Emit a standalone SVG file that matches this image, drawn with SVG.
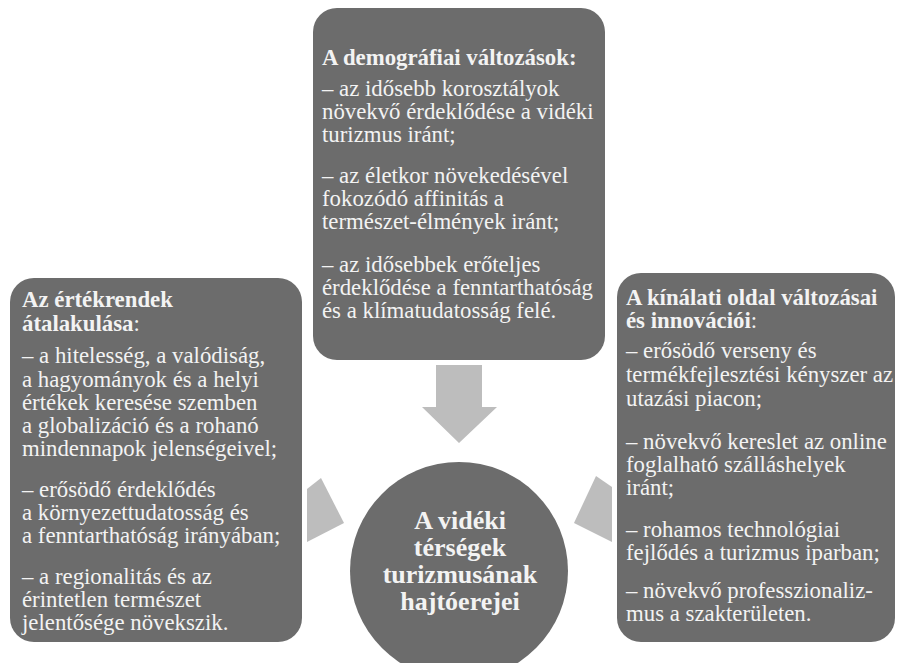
<svg xmlns="http://www.w3.org/2000/svg" width="898" height="663" viewBox="0 0 898 663">
<style>
.box{fill:#6c6c6c}
.arrow{fill:#bdbdbd}
text{font-family:"Liberation Serif","Times New Roman",serif;fill:#f3f3f3;font-size:22.8px}
.b{font-weight:bold}
.c{font-weight:bold;font-size:26px;text-anchor:middle}
</style>
<rect width="898" height="663" fill="#ffffff"/>
<g id="connectors">
<polygon class="arrow" points="436,365 482,365 482,407 497,407 459,443 422,407 436,407"/>
<polygon class="arrow" points="307,489 321,478 344,523 307,542"/>
<polygon class="arrow" points="596,476 612,487 612,542 574,523"/>
</g>
<g id="top">
<rect class="box" x="313" y="8" width="292" height="352" rx="24"/>
<text x="322" y="65" class="b">A demográfiai változások:</text>
<text x="322" y="96">– az idősebb korosztályok</text>
<text x="322" y="119">növekvő érdeklődése a vidéki</text>
<text x="322" y="142">turizmus iránt;</text>
<text x="322" y="183">– az életkor növekedésével</text>
<text x="322" y="206">fokozódó affinitás a</text>
<text x="322" y="229">természet-élmények iránt;</text>
<text x="322" y="272">– az idősebbek erőteljes</text>
<text x="322" y="295">érdeklődése a fenntarthatóság</text>
<text x="322" y="318">és a klímatudatosság felé.</text>
</g>
<g id="left">
<rect class="box" x="10" y="278" width="292" height="364" rx="24"/>
<text x="22" y="307" class="b">Az értékrendek</text>
<text x="22" y="331"><tspan class="b">átalakulása</tspan>:</text>
<text x="22" y="363">– a hitelesség, a valódiság,</text>
<text x="22" y="387">a hagyományok és a helyi</text>
<text x="22" y="410">értékek keresése szemben</text>
<text x="22" y="433">a globalizáció és a rohanó</text>
<text x="22" y="456">mindennapok jelenségeivel;</text>
<text x="22" y="497">– erősödő érdeklődés</text>
<text x="22" y="520">a környezettudatosság és</text>
<text x="22" y="543">a fenntarthatóság irányában;</text>
<text x="22" y="584">– a regionalitás és az</text>
<text x="22" y="607">érintetlen természet</text>
<text x="22" y="630">jelentősége növekszik.</text>
</g>
<g id="right">
<rect class="box" x="617" y="273" width="278" height="369" rx="24"/>
<text x="626" y="305" class="b">A kínálati oldal változásai</text>
<text x="626" y="328"><tspan class="b">és innovációi</tspan>:</text>
<text x="626" y="358">– erősödő verseny és</text>
<text x="626" y="382">termékfejlesztési kényszer az</text>
<text x="626" y="406">utazási piacon;</text>
<text x="626" y="449">– növekvő kereslet az online</text>
<text x="626" y="472">foglalható szálláshelyek</text>
<text x="626" y="495">iránt;</text>
<text x="626" y="537">– rohamos technológiai</text>
<text x="626" y="560">fejlődés a turizmus iparban;</text>
<text x="626" y="598">– növekvő professzionaliz-</text>
<text x="626" y="621">mus a szakterületen.</text>
</g>
<g id="center">
<circle class="box" cx="459" cy="571" r="109"/>
<text x="460" y="529" class="c">A vidéki</text>
<text x="460" y="556" class="c">térségek</text>
<text x="460" y="583" class="c">turizmusának</text>
<text x="460" y="610" class="c">hajtóerejei</text>
</g>
</svg>
